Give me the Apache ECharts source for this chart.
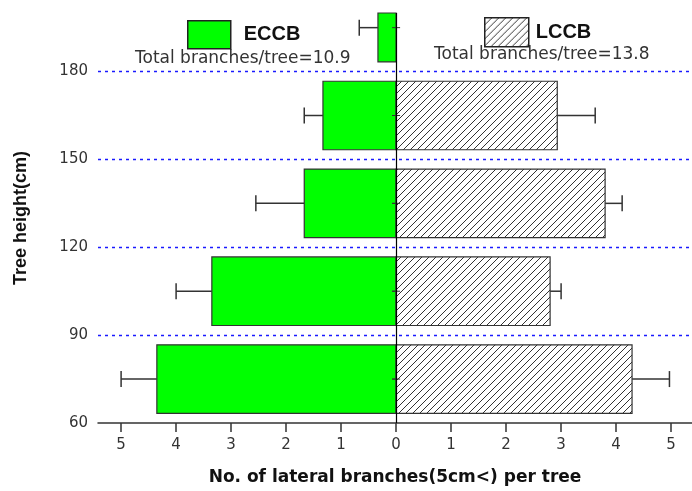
<!DOCTYPE html>
<html>
<head>
<meta charset="utf-8">
<script src="https://cdn.jsdelivr.net/npm/echarts@6/dist/echarts.min.js"></script>
<style>
  html, body { margin: 0; padding: 0; background: #fff; }
  #chart { width: 692px; height: 491px; }
</style>
</head>
<body>
<div id="chart"></div>
<script>
// lower edge of each height class (cm)
var heightBins = [60, 90, 120, 150, 180]
var binSize = 30
// mean number of lateral branches per tree and error bar (SD)
var eccbMean = [4.35, 3.35, 1.67, 1.33, 0.33]
var eccbErr = [0.65, 0.65, 0.88, 0.34, 0.34]
var lccbMean = [4.29, 2.80, 3.80, 2.93, 0]
var lccbErr = [0.68, 0.20, 0.31, 0.69, 0]
var seriesNames = ['ECCB', 'LCCB']
var totals = ['Total branches/tree=10.9', 'Total branches/tree=13.8']
var xTicks = [-5, -4, -3, -2, -1, 0, 1, 2, 3, 4, 5]
var yTicks = [60, 90, 120, 150, 180]
var gridLines = [90, 120, 150, 180]

// hatch fill for LCCB
function makeHatch() {
  var c = document.createElement('canvas')
  c.width = 7
  c.height = 7
  var ctx = c.getContext('2d')
  ctx.fillStyle = '#fff'
  ctx.fillRect(0, 0, 7, 7)
  ctx.strokeStyle = '#333'
  ctx.lineWidth = 1
  ctx.beginPath()
  ctx.moveTo(-1, 8); ctx.lineTo(8, -1)
  ctx.moveTo(-8, 8); ctx.lineTo(1, -1)
  ctx.moveTo(6, 8); ctx.lineTo(15, -1)
  ctx.stroke()
  return c
}
var hatch = { image: makeHatch(), repeat: 'repeat' }

function buildData(means, errs, sign) {
  return heightBins.map(function (b, i) {
    return [b, sign * means[i], sign * errs[i]]
  })
}

function renderBar(params, api) {
  var bin = api.value(0)
  var v = api.value(1)
  var e = api.value(2)
  if (v === 0) return { type: 'group', children: [] }
  var mid = bin + binSize / 2
  var p0 = api.coord([0, mid])
  var p1 = api.coord([v, mid])
  var pe = api.coord([v + e, mid])
  var h = api.size([0, binSize])[1] * 0.78
  var cs = params.coordSys
  var rect = echarts.graphic.clipRectByRect(
    { x: Math.min(p0[0], p1[0]), y: p0[1] - h / 2, width: Math.abs(p1[0] - p0[0]), height: h },
    { x: cs.x, y: cs.y, width: cs.width, height: cs.height }
  )
  var capH = 8
  return {
    type: 'group',
    children: [
      {
        type: 'line',
        shape: { x1: p1[0], y1: p1[1], x2: pe[0], y2: pe[1] },
        style: { stroke: '#333', lineWidth: 1.5 }
      },
      {
        type: 'line',
        shape: { x1: pe[0], y1: pe[1] - capH, x2: pe[0], y2: pe[1] + capH },
        style: { stroke: '#333', lineWidth: 1.5 }
      },
      {
        type: 'rect',
        shape: rect,
        style: { fill: api.visual('color'), stroke: '#333', lineWidth: 1.2 }
      },
      {
        type: 'line',
        shape: { x1: p0[0] - 4, y1: p0[1], x2: p0[0] + 4, y2: p0[1] },
        style: { stroke: '#333', lineWidth: 1 }
      }
    ]
  }
}

var myChart = echarts.init(document.getElementById('chart'))
myChart.setOption({
  animation: false,
  backgroundColor: '#fff',
  textStyle: { fontFamily: 'DejaVu Sans' },
  legend: [
    {
      data: [seriesNames[0]],
      icon: 'rect',
      left: 187,
      top: 20,
      padding: 0,
      itemWidth: 43,
      itemHeight: 28,
      selectedMode: false,
      itemStyle: { borderColor: '#222', borderWidth: 1.5 },
      textStyle: { fontSize: 20, fontWeight: 'bold', color: '#111', fontFamily: 'Liberation Sans', padding: [0, 0, 0, 8] }
    },
    {
      data: [seriesNames[1]],
      icon: 'rect',
      left: 484,
      top: 17,
      padding: 0,
      itemWidth: 44,
      itemHeight: 29,
      selectedMode: false,
      itemStyle: { borderColor: '#222', borderWidth: 1.5 },
      textStyle: { fontSize: 20, fontWeight: 'bold', color: '#111', fontFamily: 'Liberation Sans', padding: [0, 0, 0, 2] }
    }
  ],
  graphic: [
    {
      type: 'text', left: 135, top: 50,
      style: { text: totals[0], font: '17px "DejaVu Sans"', fill: '#333' }
    },
    {
      type: 'text', left: 434, top: 46,
      style: { text: totals[1], font: '17px "DejaVu Sans"', fill: '#333' }
    }
  ],
  grid: { left: 98, right: 0, top: 13, bottom: 68, outerBoundsMode: 'none' },
  xAxis: {
    type: 'value',
    min: -5.42,
    max: 5.38,
    name: 'No. of lateral branches(5cm<) per tree',
    nameLocation: 'middle',
    nameGap: 46,
    nameTextStyle: { fontSize: 17, fontWeight: 'bold', color: '#111', fontFamily: 'DejaVu Sans' },
    axisLine: { lineStyle: { color: '#333', width: 1.5 } },
    axisTick: { customValues: xTicks, length: 9, lineStyle: { color: '#333', width: 1.5 } },
    axisLabel: {
      customValues: xTicks,
      margin: 15,
      fontSize: 15,
      color: '#333',
      formatter: function (v) { return Math.abs(v) }
    },
    splitLine: { show: false }
  },
  yAxis: {
    type: 'value',
    min: 60,
    max: 200,
    name: 'Tree height(cm)',
    nameLocation: 'middle',
    nameGap: 68,
    nameTextStyle: { fontSize: 18, fontWeight: 'bold', color: '#111', fontFamily: 'Liberation Sans' },
    axisLine: { show: false },
    axisTick: { show: false, customValues: gridLines },
    axisLabel: { customValues: yTicks, margin: 10, fontSize: 15, color: '#333' },
    splitLine: { show: true, lineStyle: { color: '#1a1aff', type: [3, 4], width: 1.3 } }
  },
  series: [
    {
      name: seriesNames[0],
      type: 'custom',
      renderItem: renderBar,
      itemStyle: { color: '#00ff00' },
      encode: { x: [1, 2], y: 0 },
      data: buildData(eccbMean, eccbErr, -1),
      z: 3
    },
    {
      name: seriesNames[1],
      type: 'custom',
      renderItem: renderBar,
      itemStyle: { color: hatch },
      encode: { x: [1, 2], y: 0 },
      data: buildData(lccbMean, lccbErr, 1),
      markLine: {
        silent: true,
        symbol: 'none',
        label: { show: false },
        lineStyle: { color: '#000', type: 'solid', width: 1.2 },
        data: [{ xAxis: 0 }]
      },
      z: 4
    }
  ]
})
</script>
</body>
</html>
